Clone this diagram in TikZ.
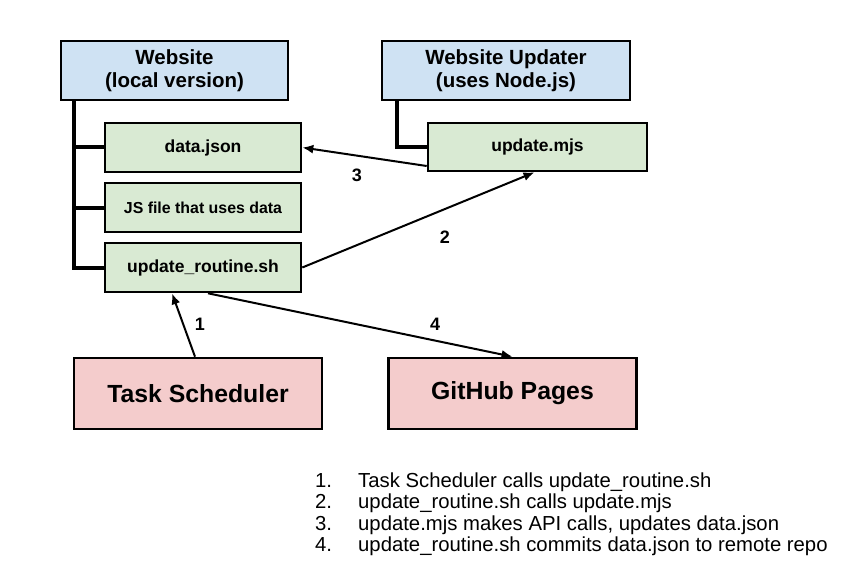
\documentclass[tikz,border=0pt]{standalone}
\usepackage{fontspec}
\setmainfont{Liberation Sans}
\usetikzlibrary{arrows.meta}
\definecolor{hdrblue}{HTML}{CFE2F3}
\definecolor{filegreen}{HTML}{D9EAD3}
\definecolor{extpink}{HTML}{F4CCCC}
\tikzset{
  box/.style={draw=black, line width=2.6pt, rectangle, inner sep=0pt, align=center, font=\bfseries\fontsize{17.5}{20}\selectfont},
  hdrbox/.style={box, fill=hdrblue, font=\bfseries\fontsize{20.5}{23}\selectfont},
  filebox/.style={box, fill=filegreen, minimum width=196pt, minimum height=49pt},
  bigbox/.style={box, fill=extpink, minimum width=248pt, minimum height=71pt, font=\bfseries\fontsize{24.8}{28}\selectfont},
  tree/.style={line width=4pt, line cap=rect},
  flow/.style={line width=2pt, -{Latex[length=11pt,width=9pt]}},
  num/.style={font=\bfseries\fontsize{18}{20}\selectfont, inner sep=0pt},
  legnum/.style={font=\fontsize{20.3}{23}\selectfont, inner sep=0pt, anchor=base west},
}
\begin{document}
\begin{tikzpicture}[x=1pt,y=-1pt]
\useasboundingbox (0,0) rectangle (862,575);
% header boxes
\node[hdrbox, minimum width=227pt, minimum height=59pt] (web) at (174.5,70.5) {Website\\(local version)};
\node[hdrbox, minimum width=248pt, minimum height=59pt] (upd) at (506,70.5) {Website Updater\\(uses Node.js)};
% file boxes
\node[filebox] (data) at (203,147.5) {data.json};
\node[filebox, font=\bfseries\fontsize{15.9}{18}\selectfont] (js) at (203,207.5) {JS file that uses data};
\node[filebox] (routine) at (203,267.5) {update\_routine.sh};
\node[box, fill=filegreen, minimum width=219pt, minimum height=48pt] (mjs) at (537.5,147) {update.mjs};
% external boxes
\node[bigbox] (task) at (198,393.5) {Task Scheduler};
\node[bigbox] (gh) at (512.5,393.5) {GitHub Pages};
% tree connectors
\draw[tree] ([xshift=14pt]web.south west) |- (routine.west);
\draw[tree] ([xshift=14pt]web.south west) |- (data.west);
\draw[tree] ([xshift=14pt]web.south west) |- (js.west);
\draw[tree] ([xshift=16pt]upd.south west) |- (mjs.west);
% flow arrows
\draw[flow] ([yshift=-19pt]mjs.west) -- (data.east);
\draw[flow] (routine.east) -- ([xshift=-3pt]mjs.south);
\draw[flow] ([xshift=-3pt]task.north) -- ([xshift=-31pt]routine.south);
\draw[flow] ([xshift=5pt]routine.south) -- (gh.north);
% labels
\node[num] (l3) at (357,175) {3};
\node[num] (l2) at (445,237) {2};
\node[num] (l1) at (200,324) {1};
\node[num] (l4) at (435,324) {4};
% legend
\node[legnum] (n1) at (315,487) {1.};
\node[legnum] (n2) at (315,508.5) {2.};
\node[legnum] (n3) at (315,530) {3.};
\node[legnum] (n4) at (315,551.5) {4.};
\node[legnum] (t1) at (358,487) {Task Scheduler calls update\_routine.sh};
\node[legnum] (t2) at (358,508.5) {update\_routine.sh calls update.mjs};
\node[legnum] (t3) at (358,530) {update.mjs makes API calls, updates data.json};
\node[legnum] (t4) at (358,551.5) {update\_routine.sh commits data.json to remote repo};
\end{tikzpicture}
\end{document}
